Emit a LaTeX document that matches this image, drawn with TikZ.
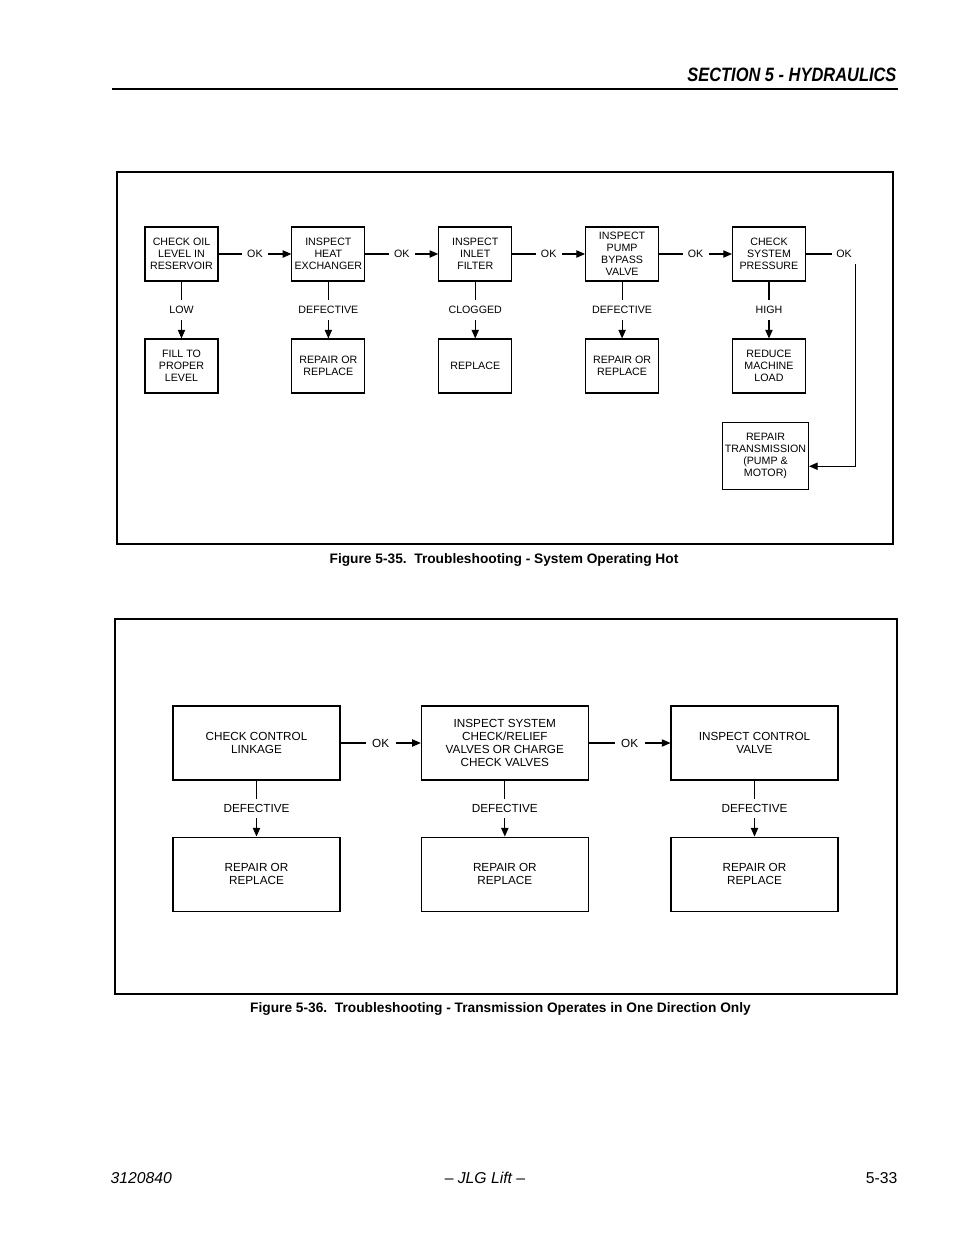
\documentclass[tikz,border=0pt]{standalone}
\usepackage{fontspec}
\setmainfont{Liberation Sans}
\newfontfamily\headfont[FakeStretch=0.85]{Liberation Sans}
\usepackage{tikz}
\usetikzlibrary{arrows.meta,positioning,calc}

\begin{document}
\begin{tikzpicture}[x=0.75pt, y=-0.75pt, line width=0.8pt,
  smallbox/.style={draw, rectangle, minimum width=54.75pt, minimum height=40.5pt, inner sep=1pt, align=center, font=\fontsize{8}{9}\selectfont},
  bigbox/.style={draw, rectangle, minimum width=125.25pt, minimum height=55.5pt, inner sep=1pt, align=center, font=\fontsize{8.8}{9.8}\selectfont},
  smalllbl/.style={fill=white, inner xsep=4pt, inner ysep=4.5pt, text height=5.8pt, text depth=0pt, font=\fontsize{8}{9}\selectfont},
  biglbl/.style={fill=white, inner xsep=5pt, inner ysep=4.2pt, text height=6.3pt, text depth=0pt, font=\fontsize{8.8}{9.8}\selectfont},
  arr/.style={-{Triangle[length=6.5pt, width=5.5pt]}},
  frame/.style={line width=1.3pt},
  captxt/.style={inner sep=0pt, font=\bfseries\fontsize{10.3}{12}\selectfont},
  foot/.style={inner sep=0pt, font=\itshape\fontsize{11.8}{13}\selectfont}
]
  \fill[white] (0,0) rectangle (954,1235);
  \useasboundingbox (0,0) rectangle (954,1235);

  % Page header and footer
  \node (head) [anchor=base east, inner sep=0pt, font=\headfont\bfseries\itshape\fontsize{14.5}{16}\selectfont] at (897,81) {SECTION 5 - HYDRAULICS};
  \draw (112,89) -- (898,89);
  \node (docno) [foot, anchor=base west] at (110,1183) {3120840};
  \node (maker) [foot, anchor=base] at (485,1183) {-- JLG Lift --};
  \node (pageno) [foot, anchor=base east, font=\fontsize{11.8}{13}\selectfont] at (898,1183) {5-33};

  % Figure 5-35
  \draw[frame] (117,172) rectangle (893,544);
  \node (oil) [smallbox] at (181.5,254) {CHECK OIL\\LEVEL IN\\RESERVOIR};
  \node (heat) [smallbox, right=54.6pt of oil] {INSPECT\\HEAT\\EXCHANGER};
  \node (filter) [smallbox, right=54.6pt of heat] {INSPECT\\INLET\\FILTER};
  \node (bypass) [smallbox, right=54.6pt of filter] {INSPECT\\PUMP\\BYPASS\\VALVE};
  \node (pressure) [smallbox, right=54.6pt of bypass] {CHECK\\SYSTEM\\PRESSURE};
  \node (fill) [smallbox, below=42.7pt of oil] {FILL TO\\PROPER\\LEVEL};
  \node (repheat) [smallbox, below=42.7pt of heat] {REPAIR OR\\REPLACE};
  \node (replace) [smallbox, below=42.7pt of filter] {REPLACE};
  \node (repbypass) [smallbox, below=42.7pt of bypass] {REPAIR OR\\REPLACE};
  \node (reduce) [smallbox, below=42.7pt of pressure] {REDUCE\\MACHINE\\LOAD};
  \node (transm) [smallbox, minimum width=64.5pt, minimum height=50.25pt, below=21.5pt of reduce, xshift=-2.6pt] {REPAIR\\TRANSMISSION\\(PUMP \&\\MOTOR)};
  \node (okout) [smalllbl, inner xsep=2.5pt] at ($(pressure.east)+(28.5pt,0)$) {OK};
  \node (cap1) [captxt] at (504,560) {Figure 5-35.~~Troubleshooting - System Operating Hot};

  \draw[arr] (oil) -- node[smalllbl] {OK} (heat);
  \draw[arr] (heat) -- node[smalllbl] {OK} (filter);
  \draw[arr] (filter) -- node[smalllbl] {OK} (bypass);
  \draw[arr] (bypass) -- node[smalllbl] {OK} (pressure);
  \draw[arr] (oil) -- node[smalllbl] {LOW} (fill);
  \draw[arr] (heat) -- node[smalllbl] {DEFECTIVE} (repheat);
  \draw[arr] (filter) -- node[smalllbl] {CLOGGED} (replace);
  \draw[arr] (bypass) -- node[smalllbl] {DEFECTIVE} (repbypass);
  \draw[arr] (pressure) -- node[smalllbl] {HIGH} (reduce);
  \draw (pressure) -- (okout);
  \draw[arr] (okout.south east) |- ([yshift=-7.5pt]transm.east);

  % Figure 5-36
  \draw[frame] (115,619) rectangle (897,994);
  \node (linkage) [bigbox] at (256.5,743) {CHECK CONTROL\\LINKAGE};
  \node (relief) [bigbox, right=60.2pt of linkage] {INSPECT SYSTEM\\CHECK/RELIEF\\VALVES OR CHARGE\\CHECK VALVES};
  \node (ctrlvalve) [bigbox, right=61.2pt of relief] {INSPECT CONTROL\\VALVE};
  \node (replink) [bigbox, below=42pt of linkage] {REPAIR OR\\REPLACE};
  \node (reprelief) [bigbox, below=42pt of relief] {REPAIR OR\\REPLACE};
  \node (repvalve) [bigbox, below=42pt of ctrlvalve] {REPAIR OR\\REPLACE};
  \node (cap2) [captxt] at (500.5,1009) {Figure 5-36.~~Troubleshooting - Transmission Operates in One Direction Only};

  \draw[arr] (linkage) -- node[biglbl] {OK} (relief);
  \draw[arr] (relief) -- node[biglbl] {OK} (ctrlvalve);
  \draw[arr] (linkage) -- node[biglbl] {DEFECTIVE} (replink);
  \draw[arr] (relief) -- node[biglbl] {DEFECTIVE} (reprelief);
  \draw[arr] (ctrlvalve) -- node[biglbl] {DEFECTIVE} (repvalve);
\end{tikzpicture}
\end{document}
